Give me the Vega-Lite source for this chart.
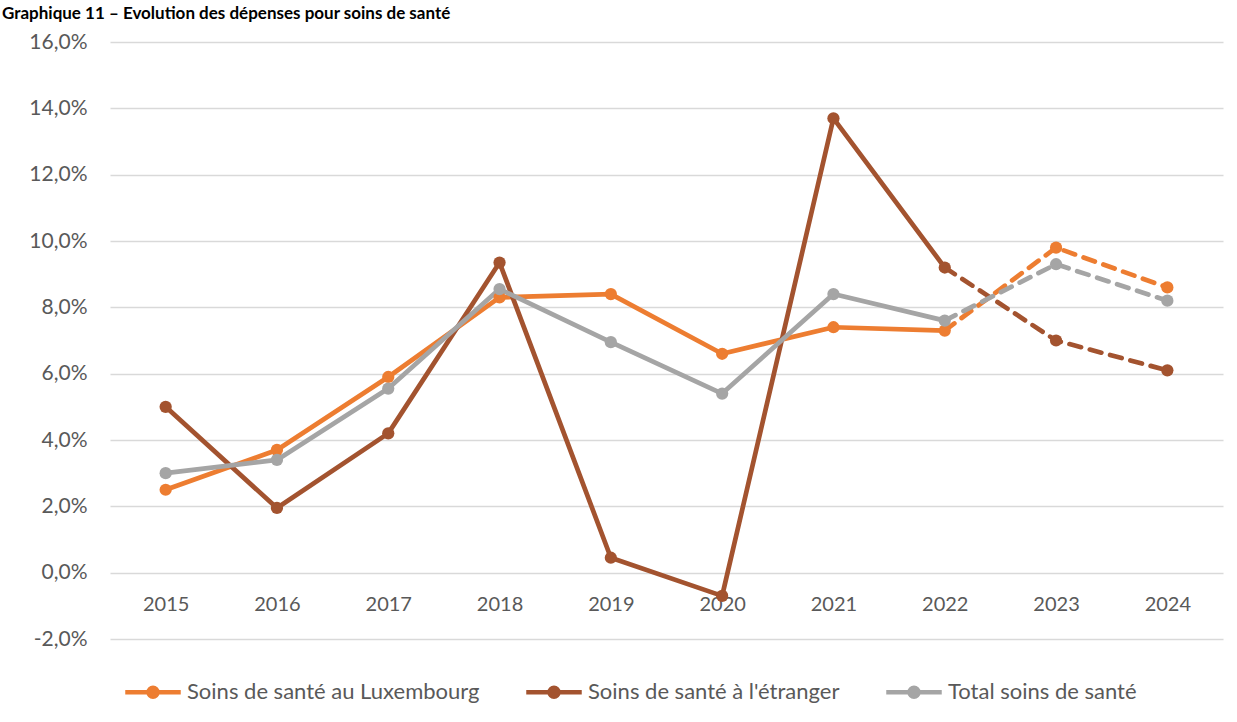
{
  "$schema": "https://vega.github.io/schema/vega-lite/v6.json",
  "autosize": {"type": "none"},
  "width": 1113,
  "height": 597,
  "padding": {"left": 110, "top": 42, "right": 14, "bottom": 83},
  "background": "#ffffff",
  "title": {
    "text": "Graphique 11 – Evolution des dépenses pour soins de santé",
    "anchor": "start",
    "frame": "group",
    "orient": "top",
    "dx": -108,
    "offset": 8,
    "font": "Lato",
    "fontSize": 17,
    "fontWeight": "bold",
    "color": "#000000"
  },
  "config": {
    "view": {"stroke": null},
    "font": "Lato"
  },
  "data": {
    "values": [
      {"year": 2015, "series": "Soins de santé au Luxembourg", "value": 2.5},
      {"year": 2016, "series": "Soins de santé au Luxembourg", "value": 3.7},
      {"year": 2017, "series": "Soins de santé au Luxembourg", "value": 5.9},
      {"year": 2018, "series": "Soins de santé au Luxembourg", "value": 8.3},
      {"year": 2019, "series": "Soins de santé au Luxembourg", "value": 8.4},
      {"year": 2020, "series": "Soins de santé au Luxembourg", "value": 6.6},
      {"year": 2021, "series": "Soins de santé au Luxembourg", "value": 7.4},
      {"year": 2022, "series": "Soins de santé au Luxembourg", "value": 7.3},
      {"year": 2023, "series": "Soins de santé au Luxembourg", "value": 9.8},
      {"year": 2024, "series": "Soins de santé au Luxembourg", "value": 8.6},
      {"year": 2015, "series": "Soins de santé à l'étranger", "value": 5.0},
      {"year": 2016, "series": "Soins de santé à l'étranger", "value": 1.95},
      {"year": 2017, "series": "Soins de santé à l'étranger", "value": 4.2},
      {"year": 2018, "series": "Soins de santé à l'étranger", "value": 9.35},
      {"year": 2019, "series": "Soins de santé à l'étranger", "value": 0.45},
      {"year": 2020, "series": "Soins de santé à l'étranger", "value": -0.7},
      {"year": 2021, "series": "Soins de santé à l'étranger", "value": 13.7},
      {"year": 2022, "series": "Soins de santé à l'étranger", "value": 9.2},
      {"year": 2023, "series": "Soins de santé à l'étranger", "value": 7.0},
      {"year": 2024, "series": "Soins de santé à l'étranger", "value": 6.1},
      {"year": 2015, "series": "Total soins de santé", "value": 3.0},
      {"year": 2016, "series": "Total soins de santé", "value": 3.4},
      {"year": 2017, "series": "Total soins de santé", "value": 5.55},
      {"year": 2018, "series": "Total soins de santé", "value": 8.55},
      {"year": 2019, "series": "Total soins de santé", "value": 6.95},
      {"year": 2020, "series": "Total soins de santé", "value": 5.4},
      {"year": 2021, "series": "Total soins de santé", "value": 8.4},
      {"year": 2022, "series": "Total soins de santé", "value": 7.6},
      {"year": 2023, "series": "Total soins de santé", "value": 9.3},
      {"year": 2024, "series": "Total soins de santé", "value": 8.2}
    ]
  },
  "encoding": {
    "x": {
      "field": "year",
      "type": "ordinal",
      "scale": {"type": "point", "padding": 0.5},
      "axis": {
        "title": null,
        "offset": -66.33,
        "domain": false,
        "ticks": false,
        "tickSize": 0,
        "grid": false,
        "labelAngle": 0,
        "labelPadding": 22,
        "labelFontSize": 20,
        "labelColor": "#595959",
        "labelFont": "Lato"
      }
    },
    "y": {
      "field": "value",
      "type": "quantitative",
      "scale": {"domain": [-2, 16], "nice": false, "zero": false},
      "axis": {
        "title": null,
        "values": [-2, 0, 2, 4, 6, 8, 10, 12, 14, 16],
        "labelExpr": "(datum.value < 0 ? '-' : '') + replace(format(abs(datum.value), '.1f'), '.', ',') + '%'",
        "domain": false,
        "ticks": false,
        "tickSize": 0,
        "labelPadding": 23,
        "labelFontSize": 21,
        "labelColor": "#595959",
        "labelFont": "Lato",
        "gridColor": "#D9D9D9",
        "gridWidth": 1.5
      }
    },
    "color": {
      "field": "series",
      "type": "nominal",
      "scale": {
        "domain": ["Soins de santé au Luxembourg", "Soins de santé à l'étranger", "Total soins de santé"],
        "range": ["#ED7D31", "#A3532F", "#A5A5A5"]
      },
      "legend": {
        "title": null,
        "orient": "none",
        "direction": "horizontal",
        "columns": 3,
        "legendX": 13,
        "legendY": 620,
        "symbolType": "M-1,0L1,0M0.16,0A0.16,0.16,0,1,1,-0.16,0A0.16,0.16,0,1,1,0.16,0Z",
        "symbolSize": 3080,
        "symbolStrokeWidth": 4.5,
        "labelFontSize": 22,
        "labelLimit": 0,
        "labelColor": "#595959",
        "labelFont": "Lato",
        "labelOffset": 4,
        "columnPadding": 37,
        "encode": {
          "symbols": {
            "update": {
              "fill": {"scale": "color", "field": "value"},
              "stroke": {"scale": "color", "field": "value"},
              "opacity": {"value": 1}
            }
          }
        }
      }
    }
  },
  "layer": [
    {
      "transform": [{"filter": "datum.year <= 2022"}],
      "mark": {"type": "line", "strokeWidth": 4.7, "strokeCap": "round", "strokeJoin": "round"},
      "encoding": {}
    },
    {
      "transform": [{"filter": "datum.year >= 2022"}],
      "mark": {"type": "line", "strokeWidth": 4.7, "strokeDash": [12, 9], "strokeCap": "round", "strokeJoin": "round"},
      "encoding": {}
    },
    {
      "mark": {"type": "point", "filled": true, "opacity": 1, "size": 150, "shape": "circle"},
      "encoding": {}
    }
  ]
}
